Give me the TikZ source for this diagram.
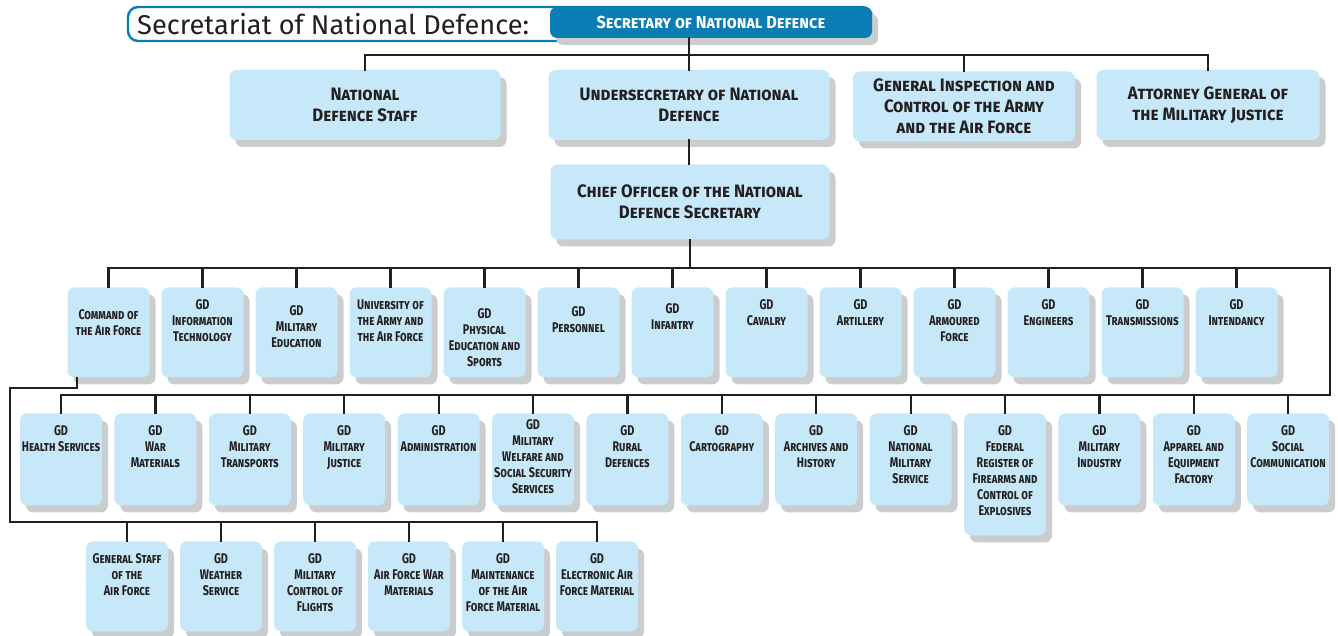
\documentclass[tikz,border=0pt]{standalone}
\usepackage{fontspec}
\setmainfont{Fira Sans}
\newfontfamily\orgfont{Fira Sans}[FakeStretch=0.77]
\newfontfamily\topfont{Fira Sans}[FakeStretch=0.93]
\usetikzlibrary{positioning, shadows}
\definecolor{cInk}{HTML}{231F20}
\definecolor{cBox}{HTML}{C7E8F8}
\definecolor{cShad}{HTML}{CBCCCE}
\definecolor{cHead}{HTML}{0B7DB5}
\tikzset{
  unit/.style={rectangle, rounded corners=3.5pt, fill=cBox, inner sep=0pt, minimum width=41pt,
               drop shadow={shadow xshift=3pt, shadow yshift=-3.5pt, fill=cShad, opacity=1}},
  big/.style={unit, align=center, text=cInk, font=\topfont\bfseries\scshape\fontsize{9}{10.5}\selectfont},
  utxt/.style={anchor=north, align=center, inner sep=0pt, text=cInk,
               font=\orgfont\bfseries\scshape\fontsize{7}{8}\selectfont},
  link/.style={draw=cInk, line width=1.1pt, line cap=rect},
}

\begin{document}
\begin{tikzpicture}[x=0.5pt, y=-0.5pt]
  \useasboundingbox (0,0) rectangle (1338,636);
  % ---- heading
  \node[draw=cHead, line width=1.2pt, rounded corners=5pt, fill=white, minimum width=372pt, minimum height=17pt] (frame) at (500,24) {};
  \node[anchor=west, inner sep=0pt, font=\fontsize{13.6}{16}\selectfont, text=cInk] (ttl) at ([xshift=5pt]frame.west) {Secretariat of National Defence:};
  \node[unit, fill=cHead, minimum width=161pt, minimum height=15.5pt, text=white,
        font=\topfont\bfseries\scshape\fontsize{8.7}{10}\selectfont] (head) at (711,22.5) {Secretary of National Defence};

  % ---- first level
  \node[big, minimum width=135.5pt, minimum height=35pt] (staff) at (365,105) {National\\Defence Staff};
  \node[big, minimum width=140.5pt, minimum height=35pt] (und) at (689,105) {Undersecretary of National\\Defence};
  \node[big, minimum width=111pt, minimum height=35pt] (insp) at (964,106.5) {General Inspection and\\Control of the Army\\and the Air Force};
  \node[big, minimum width=111.5pt, minimum height=35pt] (att) at (1208,105) {Attorney General of\\the Military Justice};
  \node[big, minimum width=139.5pt, minimum height=37.5pt] (chief) at (690,202) {Chief Officer of the National\\Defence Secretary};

  % ---- general directorates, upper row
  \foreach \i/\lbl/\dy in {1/{Command of\\the Air Force}/10, 2/{GD\\Information\\Technology}/0,
      3/{GD\\Military\\Education}/6, 4/{University of\\the Army and\\the Air Force}/0,
      5/{GD\\Physical\\Education and\\Sports}/9, 6/{GD\\Personnel}/7, 7/{GD\\Infantry}/4,
      8/{GD\\Cavalry}/0, 9/{GD\\Artillery}/0, 10/{GD\\Armoured\\Force}/0, 11/{GD\\Engineers}/0,
      12/{GD\\Transmissions}/0, 13/{GD\\Intendancy}/0}
    \node[unit, anchor=north, minimum height=45pt, label={[utxt, yshift=-6pt-\dy*0.5pt]north:{\lbl}}]
      (r3-\i) at ({108.5+94*(\i-1)},287) {};

  % ---- general directorates, lower row
  \foreach \i/\lbl/\dy/\h in {1/{GD\\Health Services}/0/92, 2/{GD\\War\\Materials}/0/92,
      3/{GD\\Military\\Transports}/0/92, 4/{GD\\Military\\Justice}/0/92, 5/{GD\\Administration}/0/92,
      6/{GD\\Military\\Welfare and\\Social Security\\Services}/-6/92, 7/{GD\\Rural\\Defences}/0/92,
      8/{GD\\Cartography}/0/92, 9/{GD\\Archives and\\History}/0/92, 10/{GD\\National\\Military\\Service}/0/92,
      11/{GD\\Federal\\Register of\\Firearms and\\Control of\\Explosives}/0/122, 12/{GD\\Military\\Industry}/0/92,
      13/{GD\\Apparel and\\Equipment\\Factory}/0/92, 14/{GD\\Social\\Communication}/0/92}
    \node[unit, anchor=north, minimum height=\h*0.5pt, label={[utxt, yshift=-6pt-\dy*0.5pt]north:{\lbl}}]
      (r4-\i) at ({61+94.4*(\i-1)},413) {};

  % ---- air force units
  \foreach \i/\lbl in {1/{General Staff\\of the\\Air Force}, 2/{GD\\Weather\\Service},
      3/{GD\\Military\\Control of\\Flights}, 4/{GD\\Air Force War\\Materials},
      5/{GD\\Maintenance\\of the Air\\Force Material}, 6/{GD\\Electronic Air\\Force Material}}
    \node[unit, anchor=north, minimum height=45pt, label={[utxt, yshift=-6pt]north:{\lbl}}]
      (r5-\i) at ({127+94*(\i-1)},541) {};

  % ---- connectors
  \coordinate (bus1) at (689,55);
  \coordinate (bus3) at (1330,268);
  \coordinate (bus4) at (1330,395);
  \coordinate (bus5) at (10,522);
  \coordinate (cmdout) at (77,388);
  \draw[link] (head.south -| und.north) -- (und.north);
  \foreach \n in {staff,insp,att}
    \draw[link] (\n.north) |- (bus1);
  \draw[link] (und.south) -- (und.south |- chief.north);
  \draw[link] (chief.south) -- (chief.south |- bus3);
  \foreach \i in {1,...,13}
    \draw[link] (r3-\i.north) |- (bus3);
  \draw[link] (bus3) -- (bus4);
  \foreach \i in {1,...,14}
    \draw[link] (r4-\i.north) |- (bus4);
  \draw[link] (r3-1.south -| cmdout) -- (cmdout) -| (bus5) -| (r5-6.north);
  \foreach \i in {1,...,5}
    \draw[link] (r5-\i.north) |- (bus5);
\end{tikzpicture}
\end{document}
